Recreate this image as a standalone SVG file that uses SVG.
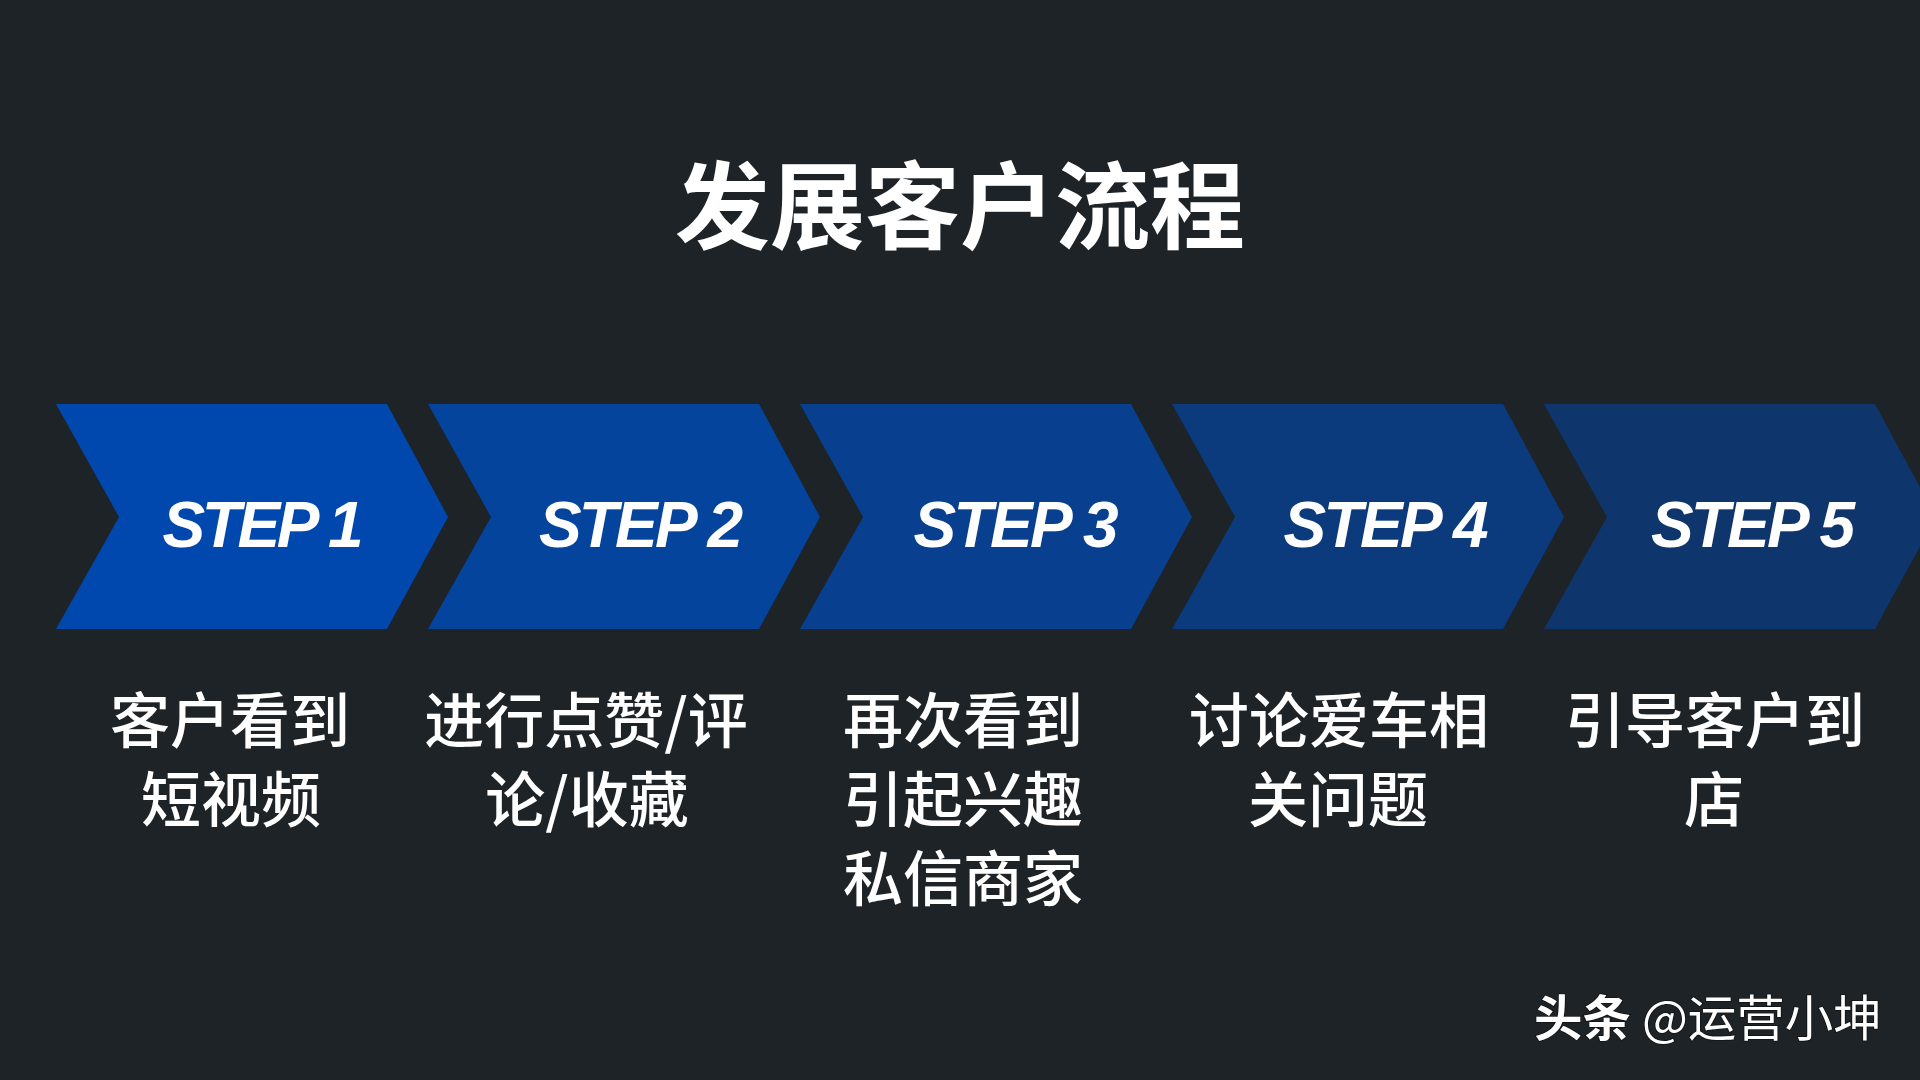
<svg xmlns="http://www.w3.org/2000/svg" width="1920" height="1080" viewBox="0 0 1920 1080">
<style>
.title{font-family:"Noto Sans CJK SC","Noto Sans",sans-serif;font-weight:700;font-size:95px;fill:#ffffff;text-anchor:middle}
.step{font-family:"Liberation Sans",Arial,sans-serif;font-weight:700;font-style:italic;font-size:64px;fill:#ffffff;text-anchor:middle}
.cap{font-family:"Noto Sans CJK SC","Noto Sans",sans-serif;font-weight:500;font-size:60px;fill:#ffffff;text-anchor:middle}
.wm{font-family:"Noto Sans CJK SC","Noto Sans",sans-serif;font-size:48.5px;fill:#ffffff;stroke:#111111;stroke-width:1.5px;paint-order:stroke}
</style>
<defs>
<path id="chev" d="M0,404 L331,404 L392,517 L331,629 L0,629 L63,517 Z"/>
</defs>
<rect x="0" y="0" width="1920" height="1080" fill="#1d2327"/>
<text class="title" x="960" y="242">发展客户流程</text>
<g id="step1">
<use href="#chev" x="56" fill="#0048ad"/>
<text class="step" x="263" y="547" textLength="201" lengthAdjust="spacing">STEP 1</text>
<text class="cap" x="230" y="743">客户看到</text>
<text class="cap" x="231" y="822">短视频</text>
</g>
<g id="step2">
<use href="#chev" x="428" fill="#05449d"/>
<text class="step" x="641" y="547" textLength="204" lengthAdjust="spacing">STEP 2</text>
<text class="cap" x="586" y="743">进行点赞/评</text>
<text class="cap" x="587" y="822">论/收藏</text>
</g>
<g id="step3">
<use href="#chev" x="800" fill="#083f8e"/>
<text class="step" x="1016" y="547" textLength="205" lengthAdjust="spacing">STEP 3</text>
<text class="cap" x="963" y="743">再次看到</text>
<text class="cap" x="963" y="822">引起兴趣</text>
<text class="cap" x="963" y="901">私信商家</text>
</g>
<g id="step4">
<use href="#chev" x="1172" fill="#0b3a7d"/>
<text class="step" x="1386" y="547" textLength="205" lengthAdjust="spacing">STEP 4</text>
<text class="cap" x="1339" y="743">讨论爱车相</text>
<text class="cap" x="1338" y="822">关问题</text>
</g>
<g id="step5">
<use href="#chev" x="1544" fill="#0e366c"/>
<text class="step" x="1753" y="547" textLength="204" lengthAdjust="spacing">STEP 5</text>
<text class="cap" x="1715" y="743">引导客户到</text>
<text class="cap" x="1714" y="822">店</text>
</g>
<g id="connectors"></g>
<text class="wm" x="1534" y="1036"><tspan font-weight="700">头条</tspan> @运营小坤</text>
</svg>
